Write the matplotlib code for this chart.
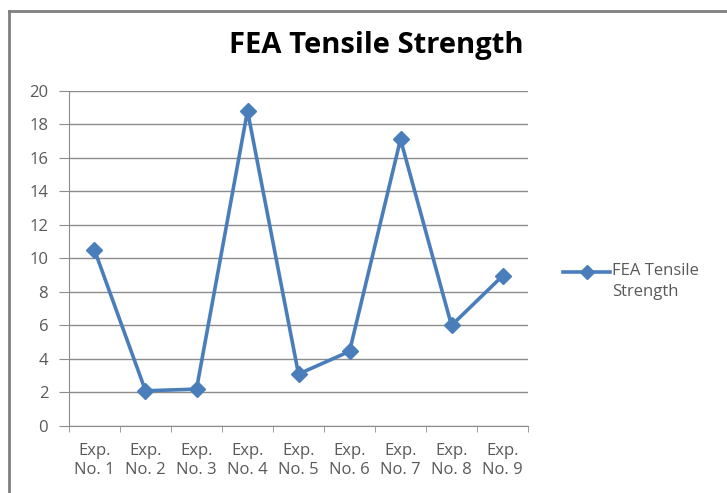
import matplotlib
matplotlib.use("Agg")
import matplotlib.pyplot as plt
from matplotlib.lines import Line2D

categorias = ["Exp.\nNo. 1", "Exp.\nNo. 2", "Exp.\nNo. 3", "Exp.\nNo. 4", "Exp.\nNo. 5",
              "Exp.\nNo. 6", "Exp.\nNo. 7", "Exp.\nNo. 8", "Exp.\nNo. 9"]
resistencia = [10.5, 2.1, 2.2, 18.8, 3.1, 4.45, 17.1, 6.0, 8.95]
y_ticks = list(range(0, 21, 2))
serie = 'FEA Tensile\nStrength'

plt.rcParams['font.family'] = ['Open Sans', 'DejaVu Sans']

azul = '#4A7EBB'
gris_texto = '#595959'
gris_linea = '#8c8c8c'

fig = plt.figure(figsize=(7.27, 4.93), dpi=100)
ax = fig.add_axes([0.0949, 0.1359, 0.6314, 0.6801])

x = list(range(len(categorias)))
ax.plot(x, resistencia, color=azul, linewidth=2.6, marker='D', markersize=8)

ax.set_xlim(-0.5, len(categorias) - 0.5)
ax.set_ylim(0, 20)
ax.set_yticks(y_ticks)
ax.yaxis.grid(True, color=gris_linea, linewidth=1)
ax.set_axisbelow(True)

ax.set_xticks(x)
ax.set_xticklabels(categorias, fontsize=12, color=gris_texto, linespacing=1.3)
ax.set_xticks([i - 0.5 for i in range(len(categorias) + 1)], minor=True)
ax.tick_params(axis='x', which='major', length=0, pad=12)
ax.tick_params(axis='x', which='minor', length=4, color=gris_linea, direction='out')
ax.tick_params(axis='y', length=7, color=gris_linea, labelsize=12, labelcolor=gris_texto, pad=8)

for lado in ['top', 'right']:
    ax.spines[lado].set_visible(False)
for lado in ['left', 'bottom']:
    ax.spines[lado].set_color(gris_linea)

fig.text(0.517, 0.908, 'FEA Tensile Strength', ha='center', va='center',
         fontsize=21, fontweight='bold', color='black')

# leyenda a mano (el marcador va alineado con la primera linea del texto)
y_ley = 1 - 272 / 493
fig.add_artist(Line2D([563 / 727, 610 / 727], [y_ley, y_ley], color=azul, linewidth=2.6))
fig.add_artist(Line2D([586.5 / 727], [y_ley], color=azul, marker='D', markersize=7))
fig.text(612 / 727, 1 - 263 / 493, serie, ha='left', va='top', fontsize=12,
         color=gris_texto, linespacing=1.45)

# borde del cuadro del grafico
fig.add_artist(Line2D([9 / 727, 1], [1 - 11 / 493, 1 - 11 / 493], color='#7f7f7f', linewidth=2))
fig.add_artist(Line2D([9 / 727, 9 / 727], [0, 1 - 11 / 493], color='#7f7f7f', linewidth=2))

fig.savefig('out.png', dpi=100)
